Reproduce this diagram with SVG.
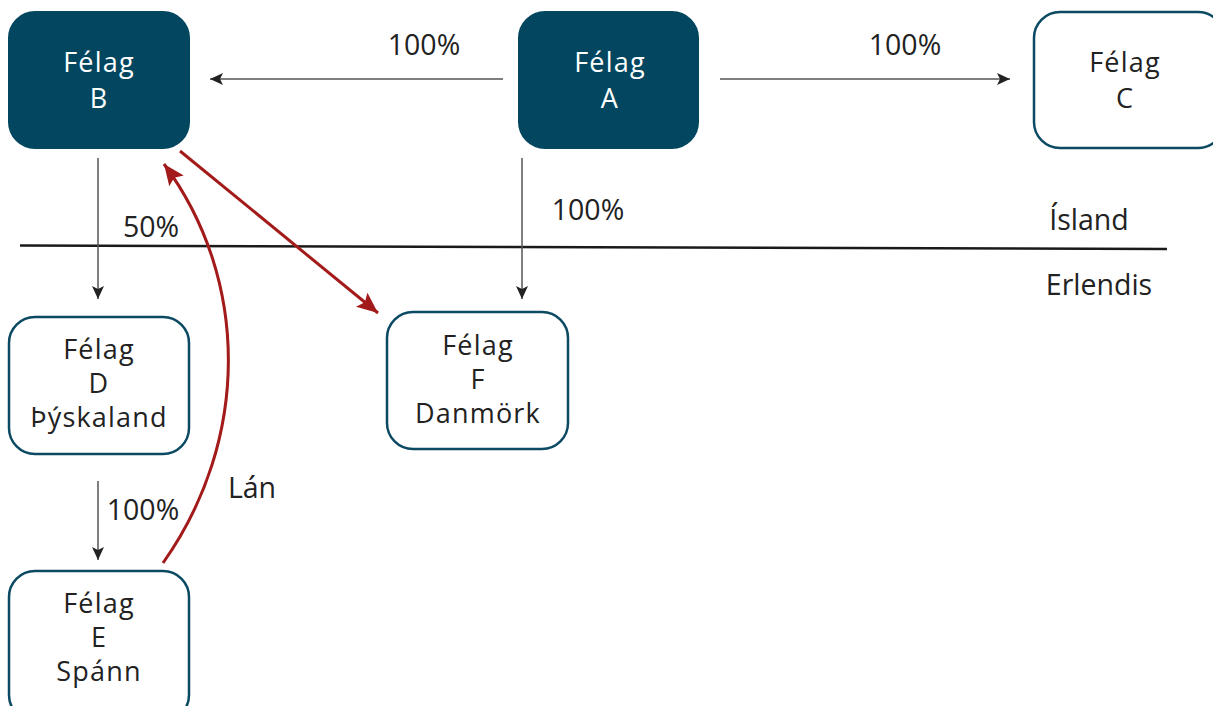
<svg xmlns="http://www.w3.org/2000/svg" width="1213" height="706" viewBox="0 0 1213 706">
<style>
text{font-family:"Open Sans","Noto Sans","DejaVu Sans",sans-serif;font-size:28.5px;fill:#222;text-anchor:middle}
.dark rect{fill:#02475f;stroke:#02475f;stroke-width:2}
.dark text{fill:#fff}
.light rect{fill:#fff;stroke:#0b4a62;stroke-width:2.5}
g.dark text,g.light text{font-size:27px;letter-spacing:1.2px}
.blk{stroke:#555;stroke-width:1.5;fill:none;marker-end:url(#ab)}
.red{stroke:#a31a1a;stroke-width:3;fill:none;marker-end:url(#ar)}
</style>
<defs>
<marker id="ab" markerUnits="userSpaceOnUse" markerWidth="14" markerHeight="12" refX="13" refY="6" orient="auto"><path d="M0,0 L13,6 L0,12 L3,6 Z" fill="#222"/></marker>
<marker id="ar" markerUnits="userSpaceOnUse" markerWidth="22" markerHeight="18" refX="21" refY="9" orient="auto"><path d="M0,0 L21,9 L0,18 L4,9 Z" fill="#a31a1a"/></marker>
</defs>
<rect width="1213" height="706" fill="#fff"/>
<line x1="20" y1="245.5" x2="1167" y2="249" stroke="#1a1a1a" stroke-width="2.5"/>
<g id="connectors">
<line class="blk" x1="503" y1="79" x2="210" y2="79"/>
<line class="blk" x1="720" y1="79" x2="1010" y2="79"/>
<line class="blk" x1="98" y1="158" x2="98" y2="299"/>
<line class="blk" x1="522" y1="158" x2="522" y2="299"/>
<line class="blk" x1="98" y1="481" x2="98" y2="560"/>
<line class="red" x1="180" y1="151" x2="378" y2="313"/>
<path class="red" d="M163,563 C250,440 250,280 164,164"/>
</g>
<g id="labels">
<text x="424" y="55">100%</text>
<text x="905" y="55">100%</text>
<text x="588" y="220">100%</text>
<text x="151" y="237">50%</text>
<text x="1089" y="230">Ísland</text>
<text x="1099" y="295">Erlendis</text>
<text x="143" y="520">100%</text>
<text x="252" y="498">Lán</text>
</g>
<g id="nodeB" class="dark"><rect x="9" y="12" width="180" height="136" rx="26"/><text x="99" y="72">Félag</text><text x="99" y="108">B</text></g>
<g id="nodeA" class="dark"><rect x="519" y="12" width="179" height="136" rx="26"/><text x="610" y="72">Félag</text><text x="610" y="108">A</text></g>
<g id="nodeC" class="light"><rect x="1034" y="12" width="190" height="136" rx="26"/><text x="1125" y="72">Félag</text><text x="1125" y="108">C</text></g>
<g id="nodeD" class="light"><rect x="9" y="317" width="180" height="137" rx="26"/><text x="99" y="359">Félag</text><text x="99" y="393">D</text><text x="99" y="427">Þýskaland</text></g>
<g id="nodeF" class="light"><rect x="387" y="312" width="181" height="137" rx="26"/><text x="478" y="355">Félag</text><text x="478" y="389">F</text><text x="478" y="423">Danmörk</text></g>
<g id="nodeE" class="light"><rect x="9" y="571" width="180" height="150" rx="26"/><text x="99" y="613">Félag</text><text x="99" y="647">E</text><text x="99" y="681">Spánn</text></g>
</svg>
